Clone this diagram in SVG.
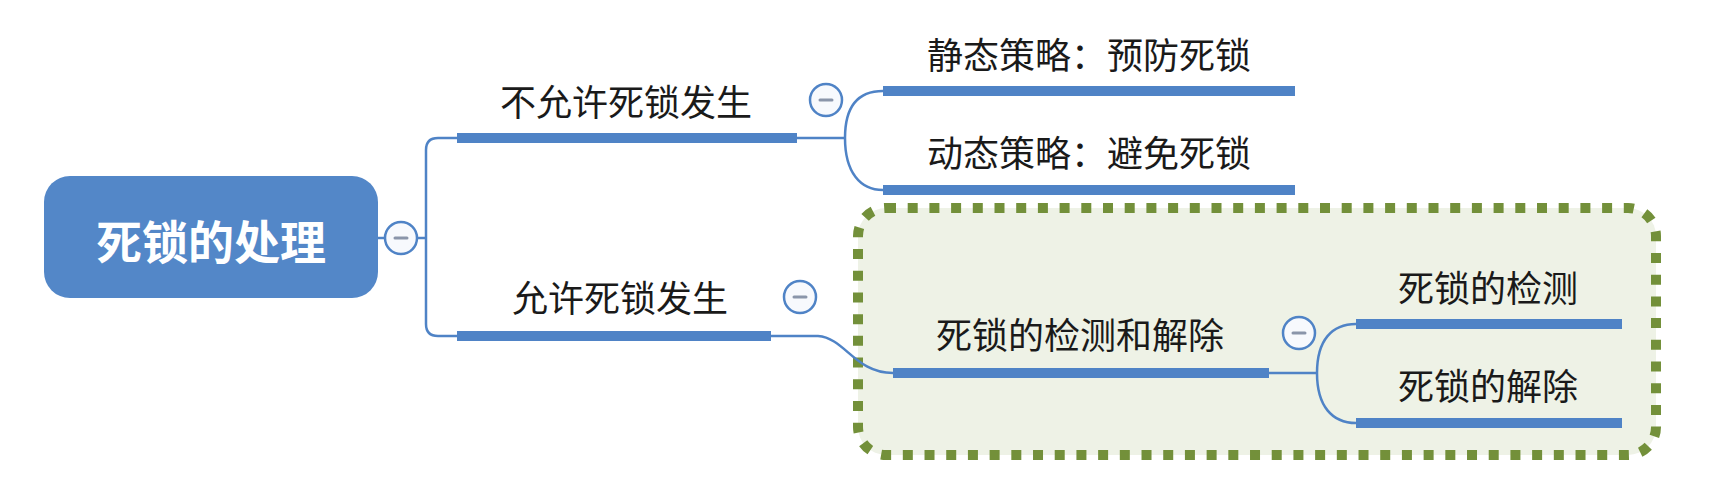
<svg xmlns="http://www.w3.org/2000/svg" width="1720" height="484" viewBox="0 0 1720 484">
<style>
text{font-family:"Noto Sans CJK SC","Noto Sans",sans-serif;fill:#1a1a1a;text-anchor:middle}
.lbl{font-size:36px}
.root{font-size:46px;font-weight:bold;fill:#ffffff}
.ul{stroke:#4f83c6;stroke-width:10;fill:none}
.cn{stroke:#4f83c6;stroke-width:2.5;fill:none}
.tog circle{fill:#f7f9fd;stroke:#4f83c6;stroke-width:2.5}
.tog line{stroke:#8a95aa;stroke-width:3;stroke-linecap:round}
</style>
<rect width="1720" height="484" fill="#ffffff"/>
<g id="boundary">
<rect x="858" y="208" width="798" height="247" rx="28" fill="#eef2e6" stroke="#73903a" stroke-width="10" stroke-dasharray="10 11.7"/>
</g>
<g id="connectors">
<path class="cn" d="M378,238 H384 M418,238 H426"/>
<path class="cn" d="M457,138 H438 Q426,138 426,150 V324 Q426,336 438,336 H457"/>
<path class="cn" d="M797,138 H845 M845,138 C845,104 860,91 883,91 M845,138 C845,172 860,190 883,190"/>
<path class="cn" d="M771,336 H818 C845,338 855,373 893,373"/>
<path class="cn" d="M1269,373 H1317 M1317,373 C1317,340 1332,324 1356,324 M1317,373 C1317,406 1332,423 1356,423"/>
</g>
<g id="root">
<rect x="44" y="176" width="334" height="122" rx="26" fill="#5387c8"/>
<text class="root" x="211" y="259">死锁的处理</text>
<g class="tog"><circle cx="401" cy="238" r="16"/><line x1="395" y1="238" x2="407" y2="238"/></g>
</g>
<g id="n-not-allow">
<line class="ul" x1="457" y1="138" x2="797" y2="138"/>
<text class="lbl" x="626" y="116">不允许死锁发生</text>
<g class="tog"><circle cx="826" cy="100" r="16"/><line x1="820" y1="100" x2="832" y2="100"/></g>
</g>
<g id="n-static">
<line class="ul" x1="883" y1="91" x2="1295" y2="91"/>
<text class="lbl" x="1089" y="69">静态策略：预防死锁</text>
</g>
<g id="n-dynamic">
<line class="ul" x1="883" y1="190" x2="1295" y2="190"/>
<text class="lbl" x="1089" y="167">动态策略：避免死锁</text>
</g>
<g id="n-allow">
<line class="ul" x1="457" y1="336" x2="771" y2="336"/>
<text class="lbl" x="620" y="312">允许死锁发生</text>
<g class="tog"><circle cx="800" cy="297" r="16"/><line x1="794" y1="297" x2="806" y2="297"/></g>
</g>
<g id="n-detect-recover">
<line class="ul" x1="893" y1="373" x2="1269" y2="373"/>
<text class="lbl" x="1080" y="349">死锁的检测和解除</text>
<g class="tog"><circle cx="1299" cy="333" r="16"/><line x1="1293" y1="333" x2="1305" y2="333"/></g>
</g>
<g id="n-detect">
<line class="ul" x1="1356" y1="324" x2="1622" y2="324"/>
<text class="lbl" x="1488" y="302">死锁的检测</text>
</g>
<g id="n-recover">
<line class="ul" x1="1356" y1="423" x2="1622" y2="423"/>
<text class="lbl" x="1488" y="400">死锁的解除</text>
</g>
</svg>
